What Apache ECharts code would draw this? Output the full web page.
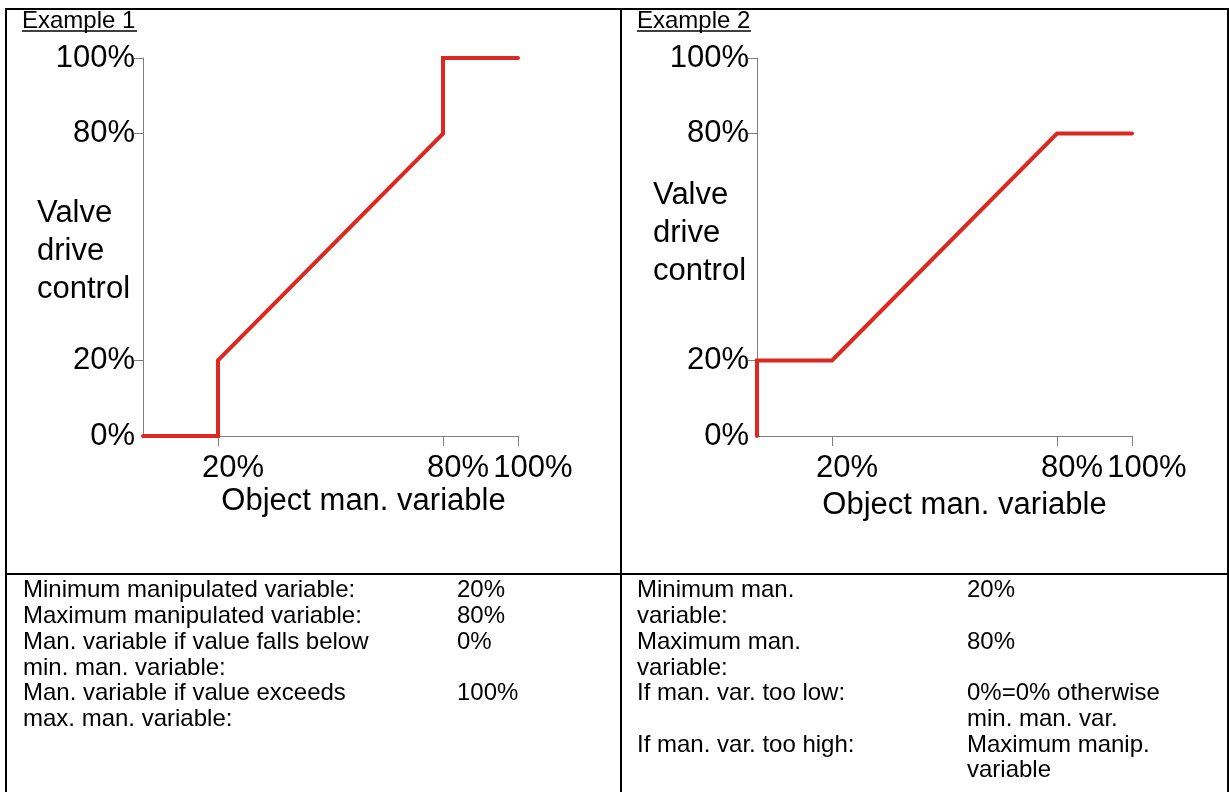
<!DOCTYPE html>
<html>
<head>
<meta charset="utf-8">
<script src="https://cdn.jsdelivr.net/npm/echarts@6/dist/echarts.min.js"></script>
<style>
  html, body { margin: 0; padding: 0; background: #fff; }
  #container { width: 1229px; height: 792px; }
</style>
</head>
<body>
<div id="container"></div>
<script>
// 数据：两条阀门驱动曲线 [对象调节量 %, 阀门输出 %]
var example1 = [[0, 0], [20, 0], [20, 20], [80, 80], [80, 100], [100, 100]];
var example2 = [[0, 0], [0, 20], [20, 20], [80, 80], [100, 80]];
var yTickValues = [20, 80, 100];
var yLabelValues = [0, 20, 80, 100];
var xTickValues = [20, 80, 100];

// 表格下半部分文字
var leftLabels = ['Minimum manipulated variable:', 'Maximum manipulated variable:',
    'Man. variable if value falls below', 'min. man. variable:',
    'Man. variable if value exceeds', 'max. man. variable:'];
var leftValues = ['20%', '80%', '0%', '', '100%'];
var rightLabels = ['Minimum man.', 'variable:', 'Maximum man.', 'variable:',
    'If man. var. too low:', '', 'If man. var. too high:'];
var rightValues = ['20%', '', '80%', '', '0%=0% otherwise', 'min. man. var.',
    'Maximum manip.', 'variable'];

var FONT = 'Liberation Sans, Arial, sans-serif';
var RED = '#dc2820';
var AXIS = '#7f7f7f';

var myChart = echarts.init(document.getElementById('container'));

function xAxes(grid, nameShift, nameGap) {
    return [{
        type: 'value', gridIndex: grid, min: 0, max: 100,
        splitLine: { show: false },
        axisLine: { lineStyle: { color: AXIS, width: 1 } },
        axisTick: { customValues: xTickValues, length: 10, lineStyle: { color: AXIS } },
        axisLabel: {
            customValues: xTickValues, formatter: '{value}%', color: '#000', hideOverlap: false,
            fontFamily: FONT, fontSize: 31, margin: 17, padding: [0, 0, 0, 30]
        },
        name: 'Object man. variable', nameLocation: 'middle', nameGap: nameGap,
        nameTextStyle: { color: '#000', fontFamily: FONT, fontSize: 31, padding: [0, 0, 0, nameShift] }
    }, {
        // 内侧刻度，让刻度线穿过坐标轴
        type: 'value', gridIndex: grid, min: 0, max: 100,
        splitLine: { show: false }, axisLine: { show: false }, axisLabel: { show: false },
        axisTick: { customValues: xTickValues, inside: true, length: 10, lineStyle: { color: AXIS } }
    }];
}

function yAxes(grid) {
    return [{
        type: 'value', gridIndex: grid, min: 0, max: 100,
        splitLine: { show: false },
        axisLine: { lineStyle: { color: AXIS, width: 1 } },
        axisTick: { customValues: yTickValues, length: 9, lineStyle: { color: AXIS } },
        axisLabel: {
            customValues: yLabelValues, formatter: '{value}%', color: '#000',
            fontFamily: FONT, fontSize: 31, margin: 8
        }
    }, {
        type: 'value', gridIndex: grid, min: 0, max: 100,
        splitLine: { show: false }, axisLine: { show: false }, axisLabel: { show: false },
        axisTick: { customValues: yTickValues, inside: true, length: 8, lineStyle: { color: AXIS } }
    }];
}

function yName(x, y) {
    return {
        type: 'text', left: x, top: y,
        style: { text: 'Valve\ndrive\ncontrol', fill: '#000', font: '31px ' + FONT, lineHeight: 38 }
    };
}

function textCol(x, lines) {
    return {
        type: 'text', left: x, top: 578,
        style: { text: lines.join('\n'), fill: '#000', font: '24px ' + FONT, lineHeight: 25.7 }
    };
}

function hline(x1, x2, y) {
    return { type: 'line', shape: { x1: x1, y1: y, x2: x2, y2: y }, style: { stroke: '#000', lineWidth: 2 } };
}
function vline(x, y1, y2) {
    return { type: 'line', shape: { x1: x, y1: y1, x2: x, y2: y2 }, style: { stroke: '#000', lineWidth: 2 } };
}

myChart.setOption({
    animation: false,
    grid: [
        { left: 143, top: 58, width: 375, height: 378, containLabel: false, outerBoundsMode: 'none' },
        { left: 757, top: 58, width: 375, height: 378, containLabel: false, outerBoundsMode: 'none' }
    ],
    xAxis: xAxes(0, 66, 50).concat(xAxes(1, 40, 54)),
    yAxis: yAxes(0).concat(yAxes(1)),
    series: [{
        name: 'Example 1', type: 'line', xAxisIndex: 0, yAxisIndex: 0,
        data: example1, symbol: 'none', clip: false,
        lineStyle: { color: RED, width: 4, cap: 'round', join: 'miter' }
    }, {
        name: 'Example 2', type: 'line', xAxisIndex: 2, yAxisIndex: 2,
        data: example2, symbol: 'none', clip: false,
        lineStyle: { color: RED, width: 4, cap: 'round', join: 'miter' }
    }],
    graphic: [
        // 表格边框
        hline(5, 1229, 9), vline(6, 8, 792), vline(621, 8, 792), vline(1228, 8, 792),
        hline(5, 1229, 574),
        // 标题 + 下划线
        { type: 'text', left: 22, top: 9, style: { text: 'Example 1', fill: '#000', font: '24px ' + FONT } },
        { type: 'line', shape: { x1: 22, y1: 31, x2: 137, y2: 31 }, style: { stroke: '#000', lineWidth: 1.5 } },
        { type: 'text', left: 637, top: 9, style: { text: 'Example 2', fill: '#000', font: '24px ' + FONT } },
        { type: 'line', shape: { x1: 637, y1: 31, x2: 751, y2: 31 }, style: { stroke: '#000', lineWidth: 1.5 } },
        // 纵轴名称
        yName(37, 194), yName(653, 176),
        // 参数说明
        textCol(23, leftLabels), textCol(457, leftValues),
        textCol(637, rightLabels), textCol(967, rightValues)
    ]
});
</script>
</body>
</html>
